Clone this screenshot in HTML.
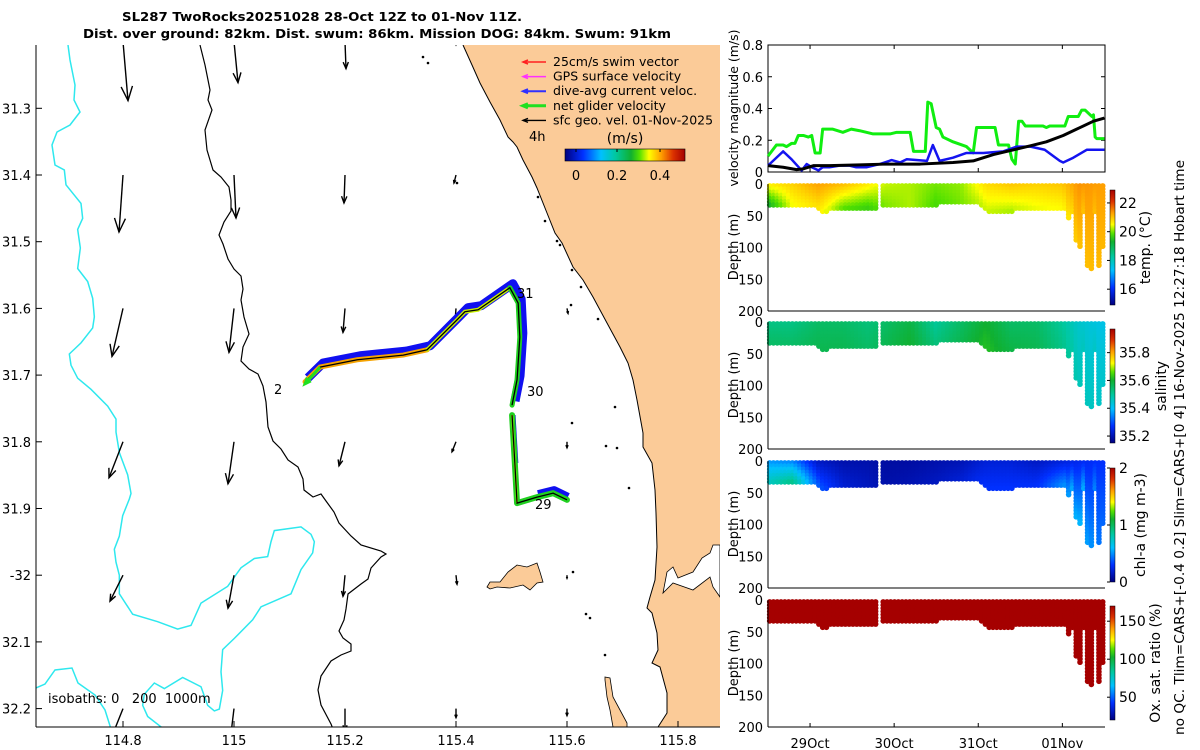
<!DOCTYPE html>
<html><head><meta charset="utf-8"><style>
html,body{margin:0;padding:0;background:#fff}
svg{display:block;font-family:"DejaVu Sans","Liberation Sans",sans-serif}
</style></head><body>
<svg id="fig" width="1200" height="750" viewBox="0 0 1200 750" xmlns="http://www.w3.org/2000/svg">
<rect width="1200" height="750" fill="#fff"/>
<g font-weight="bold" font-size="12" text-anchor="middle">
<text x="322" y="21" textLength="400" lengthAdjust="spacingAndGlyphs">SL287 TwoRocks20251028 28-Oct 12Z to 01-Nov 11Z.</text>
<text x="377" y="38" textLength="588" lengthAdjust="spacingAndGlyphs">Dist. over ground: 82km. Dist. swum: 86km. Mission DOG: 84km. Swum: 91km</text>
</g>
<defs><clipPath id="mapclip"><rect x="36" y="45" width="684" height="682"/></clipPath>
<linearGradient id="jetH" x1="0" x2="1" y1="0" y2="0"></linearGradient>
<linearGradient id="jetV" x1="0" x2="0" y1="1" y2="0"></linearGradient></defs>
<g id="map" clip-path="url(#mapclip)"></g>
<g id="mapaxes"></g>
<g id="right"></g>
<text font-size="13" transform="translate(1184,735) rotate(-90)" textLength="575" lengthAdjust="spacingAndGlyphs">no QC. Tlim=CARS+[-0.4 0.2] Slim=CARS+[0 4] 16-Nov-2025 12:27:18 Hobart time</text>
</svg>
<script>
// ---------- DATA ----------
const trackLon=[115.128,115.155,115.222,115.305,115.348,115.402,115.416,115.440,115.497,115.512,115.515,115.510,115.501];
const trackLat=[31.710,31.688,31.677,31.670,31.662,31.617,31.605,31.602,31.569,31.592,31.643,31.707,31.745];
const track2Lon=[115.501,115.506,115.510,115.546,115.575,115.600];
const track2Lat=[31.760,31.832,31.892,31.883,31.877,31.887];
const gridLon=[114.8,115.0,115.2,115.4,115.6];
const gridLat=[31.2,31.4,31.6,31.8,32.0,32.2];
const geoU=[[0.02,0.016,0.004,0,null],[-0.016,0.008,-0.004,-0.008,null],[-0.044,-0.02,-0.008,-0.004,0.004],[-0.056,-0.024,-0.024,-0.016,0],[-0.052,-0.024,-0.008,0.004,0],[-0.04,-0.012,0,0,0]];
const geoV=[[-0.236,-0.164,-0.108,-0.012,null],[-0.228,-0.172,-0.112,-0.032,null],[-0.192,-0.176,-0.096,-0.052,-0.02],[-0.144,-0.168,-0.096,-0.04,-0.024],[-0.104,-0.132,-0.084,-0.036,-0.012],[-0.1,-0.1,-0.088,-0.036,-0.028]];
const mapXTicks=[114.8,115,115.2,115.4,115.6,115.8];
const mapXLabels=["114.8","115","115.2","115.4","115.6","115.8"];
const mapYTicks=[31.3,31.4,31.5,31.6,31.7,31.8,31.9,32.0,32.1,32.2];
const mapYLabels=["31.3","31.4","31.5","31.6","31.7","31.8","31.9","-32","32.1","32.2"];
// velocity series (t = days since 28-Oct 12Z)
const greenT=[0,.10,.18,.22,.28,.32,.36,.42,.48,.52,.56,.62,.65,.77,.89,.99,1.09,1.25,1.45,1.53,1.69,1.73,1.87,1.90,1.94,2.00,2.04,2.08,2.20,2.36,2.44,2.48,2.70,2.74,2.86,2.90,2.94,2.98,3.02,3.06,3.27,3.31,3.35,3.53,3.57,3.69,3.73,3.77,3.85,3.87,3.89,3.91,4.0];
const greenV=[.10,.17,.17,.16,.18,.18,.23,.23,.22,.23,.12,.12,.27,.27,.25,.27,.26,.24,.24,.25,.25,.13,.13,.44,.43,.28,.27,.22,.19,.16,.12,.28,.28,.17,.17,.08,.05,.32,.32,.29,.29,.28,.29,.29,.35,.35,.39,.39,.35,.36,.22,.21,.21];
const blueT=[0,.18,.28,.40,.46,.52,.60,.65,.73,.85,.97,1.05,1.17,1.33,1.47,1.57,1.65,1.89,1.96,2.04,2.20,2.36,2.56,2.80,2.96,3.12,3.29,3.47,3.51,3.63,3.79,4.0];
const blueV=[.04,.13,.08,.01,.05,.03,.01,.03,.03,.04,.04,.03,.03,.05,.075,.06,.08,.07,.17,.07,.09,.12,.12,.13,.16,.16,.14,.07,.06,.09,.14,.14];
const blackT=[0,.18,.34,.42,.54,.73,1.09,1.41,1.81,2.20,2.44,2.68,2.92,3.12,3.31,3.51,3.71,3.87,4.0];
const blackV=[.04,.03,.015,.02,.04,.04,.045,.05,.05,.06,.07,.11,.14,.165,.19,.23,.28,.32,.34];
const velTicks=[0,0.2,0.4,0.6,0.8];
const velLabels=["0","0.2","0.4","0.6","0.8"];
const dayTicks=[0.5,1.5,2.5,3.5];
const dayLabels=["29Oct","30Oct","31Oct","01Nov"];
const depthTicks=[0,50,100,150,200];
// section data
const depthT=[0,.3,.6,.62,.9,1.3,1.36,1.8,2.2,2.5,2.62,3.5,3.55,3.62,3.7,3.8,3.9,3.95,4.0];
const depthMax=[33,34,38,44,41,41,38,35,31,33,44,41,41,83,99,130,141,125,83];
const valT=[0,.3,.6,.9,1.2,1.4,1.7,2.0,2.3,2.6,2.9,3.2,3.5,3.7,4.0];
const tempSurf=[20.7,20.9,21.3,21.1,20.7,20.3,20.2,20.0,20.1,20.8,21.0,20.9,21.0,21.4,21.3];
const tempDeep=[19.3,20.5,20.7,19.8,19.6,20.0,20.2,19.8,20.0,20.3,20.2,20.4,20.5,21.0,21.1];
const saltSurf=[35.52,35.52,35.55,35.55,35.53,35.55,35.58,35.50,35.55,35.60,35.55,35.55,35.50,35.45,35.42];
const saltDeep=[35.55,35.55,35.57,35.57,35.55,35.57,35.60,35.53,35.57,35.62,35.58,35.57,35.52,35.47,35.45];
const chlSurf=[0.5,0.45,0.15,0.1,0.1,0.08,0.08,0.1,0.12,0.2,0.2,0.15,0.2,0.25,0.3];
const chlDeep=[0.75,0.9,0.4,0.2,0.15,0.1,0.12,0.15,0.2,0.3,0.3,0.3,0.5,0.6,0.4];
const oxSurf=[180,180,180,180,180,180,180,180,180,180,180,180,180,180,180];
const oxDeep=[180,180,180,180,180,180,180,180,180,180,180,180,180,180,180];
const gapStart=1.31, gapEnd=1.36;

// ---------- helpers ----------
const NS="http://www.w3.org/2000/svg";
function mk(tag,attrs,parent){const e=document.createElementNS(NS,tag);for(const k in attrs)e.setAttribute(k,attrs[k]);parent.appendChild(e);return e;}
const cmStops=[[0,[0,0,127]],[0.15,[0,48,255]],[0.3,[0,192,255]],[0.42,[0,200,160]],[0.55,[16,176,48]],[0.62,[80,224,0]],[0.7,[255,255,0]],[0.8,[255,160,0]],[0.9,[220,50,0]],[1,[165,0,0]]];
function jet(v){v=Math.max(0,Math.min(1,v));for(let i=1;i<cmStops.length;i++){if(v<=cmStops[i][0]){const a=cmStops[i-1],b=cmStops[i];const f=(v-a[0])/(b[0]-a[0]);const c=a[1].map((x,j)=>Math.round(x+f*(b[1][j]-x)));return `rgb(${c[0]},${c[1]},${c[2]})`;}}return 'rgb(165,0,0)';}
function interp(T,V,t){if(t<=T[0])return V[0];for(let i=1;i<T.length;i++){if(t<=T[i]){const f=(t-T[i-1])/(T[i]-T[i-1]);return V[i-1]+f*(V[i]-V[i-1]);}}return V[V.length-1];}
const lonX=lon=>123+(lon-114.8)*555;
const latY=lat=>175+(lat-31.4)*667;
const tX=t=>768+t*84.1;
['jetH','jetV'].forEach(id=>{const g=document.getElementById(id);for(let i=0;i<=40;i++){const s=document.createElementNS(NS,'stop');s.setAttribute('offset',i/40);s.setAttribute('stop-color',jet(i/40));g.appendChild(s);}});

// ---------- MAP ----------
const map=document.getElementById('map');
function poly(pts,attrs,name){const e=mk('polyline',Object.assign({points:pts.map(p=>p.join(',')).join(' '),fill:'none'},attrs),map);return e;}
function polyg(pts,attrs,name){const e=mk('polygon',Object.assign({points:pts.map(p=>p.join(',')).join(' ')},attrs),map);return e;}
const coast=[[463,45],[472,65],[480,83],[490,102],[500,120],[508,137],[513,142],[517,147],[523,160],[532,177],[537,188],[547,213],[555,233],[562,243],[573,267],[583,280],[593,297],[607,323],[620,347],[628,363],[633,380],[637,400],[643,433],[643,447],[652,463],[655,490],[656,513],[657,547],[655,580],[650,597],[647,608],[652,613],[657,633],[658,650],[652,663],[660,667],[667,693],[667,713],[658,727]];
polyg(coast.concat([[720,727],[720,45]]),{fill:'#fbcb98',stroke:'none'},'land');
poly(coast,{stroke:'#000','stroke-width':1},'coastline');
polyg([[667,572],[673,567],[678,578],[693,572],[702,558],[710,553],[713,545],[720,545],[720,597],[713,587],[710,577],[693,590],[673,583],[663,593]],{fill:'#fff',stroke:'#000','stroke-width':0.8},'river-inlet');
polyg([[487,587],[490,582],[500,582],[508,572],[517,565],[527,567],[537,563],[540,572],[543,582],[537,583],[530,590],[523,585],[510,588],[497,587],[490,589]],{fill:'#fbcb98',stroke:'#000','stroke-width':0.8},'rottnest-island');
polyg([[605,677],[610,678],[613,697],[620,710],[627,723],[627,727],[613,727],[610,710],[607,697],[605,680]],{fill:'#fbcb98',stroke:'#000','stroke-width':0.8},'garden-island');
poly([[200,45],[205,65],[210,90],[208,100],[212,110],[205,130],[207,150],[213,170],[221,177],[229,187],[231,200],[231,211],[224,222],[219,235],[223,244],[228,259],[234,269],[241,276],[243,289],[241,300],[244,317],[249,334],[243,347],[241,361],[249,369],[258,374],[263,386],[266,402],[268,427],[273,441],[281,449],[288,460],[298,467],[303,479],[304,490],[313,497],[321,494],[326,501],[334,512],[339,523],[351,536],[361,545],[381,551],[386,554],[381,557],[371,568],[368,579],[361,584],[348,594],[346,609],[344,620],[339,631],[343,638],[351,644],[351,651],[341,655],[331,661],[321,676],[318,690],[321,705],[331,724],[333,729]],{stroke:'#000','stroke-width':1.2},'isobath-200m');
const cz=[[190,0],[195,40],[240,90],[245,130],[230,160],[238,210],[230,265],[260,300],[275,345],[280,395],[275,425],[240,465],[205,495],[210,525],[230,560],[270,590],[320,635],[345,670],[345,705],[355,760],[380,820],[390,870],[385,885],[365,930],[355,985],[340,1020],[345,1055],[355,1090],[355,1140],[395,1195],[470,1215],[530,1235],[570,1225],[600,1165],[680,1120],[720,1070],[760,1045],[800,1040],[810,1000],[820,970],[900,960],[930,980],[940,1000],[935,1030],[900,1075],[870,1140],[780,1175],[755,1210],[700,1260],[665,1290],[660,1350],[665,1400],[655,1450],[640,1455],[620,1440],[600,1390],[545,1365],[490,1395],[460,1380],[430,1410],[425,1440],[440,1470],[490,1505]].map(p=>[p[0]/3+1,170+p[1]/2.69]);
poly([[68,45],[70,60],[75,85],[74,100],[80,112],[70,125],[57,132],[52,145],[55,165]].concat(cz),{stroke:'#2ee8ee','stroke-width':1.5},'isobath-1000m');
poly([[36,688],[45,684],[55,670],[72,668],[78,683],[95,695],[105,710],[111,729]],{stroke:'#2ee8ee','stroke-width':1.5},'isobath-1000m-south');
[[423,57],[428,63],[457,183],[538,197],[545,221],[557,241],[560,245],[572,270],[581,287],[571,305],[598,319],[572,423],[615,407],[606,446],[617,448],[629,488],[573,572],[586,614],[590,618],[605,655]].forEach(p=>{const c=mk('circle',{cx:p[0],cy:p[1],r:1.3,fill:'#000'},map);});
function arrow(g,x1,y1,x2,y2,col,w,hs,name){const L=Math.hypot(x2-x1,y2-y1);const a=mk('g',{},g);mk('line',{x1,y1,x2,y2,stroke:col,'stroke-width':w},a);if(L<1)return a;const ux=(x2-x1)/L,uy=(y2-y1)/L;const h=Math.min(hs,L*0.45);mk('polyline',{points:`${x2-h*ux-h*0.4*uy},${y2-h*uy+h*0.4*ux} ${x2},${y2} ${x2-h*ux+h*0.4*uy},${y2-h*uy-h*0.4*ux}`,fill:'none',stroke:col,'stroke-width':w},a);return a;}
for(let r=0;r<gridLat.length;r++)for(let c=0;c<gridLon.length;c++){const u=geoU[r][c],v=geoV[r][c];if(u===null)continue;const x=lonX(gridLon[c]),y=latY(gridLat[r]);arrow(map,x,y,x+u*250,y-v*250,'#000',1.4,Math.max(3,Math.hypot(u,v)*60),'geo-velocity-arrow');}
const tp=trackLon.map((l,i)=>[lonX(l),latY(trackLat[i])]);
const tp2=track2Lon.map((l,i)=>[lonX(l),latY(track2Lat[i])]);
poly(tp.map(p=>[p[0]+3,p[1]-4]),{stroke:'#1010f0','stroke-width':9,'stroke-linejoin':'round'},'dive-avg-current-band');
poly(tp2.slice(3).map(p=>[p[0]+1,p[1]-3]),{stroke:'#1010f0','stroke-width':8,'stroke-linejoin':'round'},'dive-avg-current-band-south');
poly(tp2.slice(0,2).map(p=>[p[0]+1,p[1]]),{stroke:'#1010f0','stroke-width':5},'dive-avg-current-band-leg');
poly(tp.slice(0,5),{stroke:'#f5a300','stroke-width':5,'stroke-linecap':'round'},'net-velocity-west');
poly(tp.slice(4,9),{stroke:'#c8f000','stroke-width':4,'stroke-linecap':'round'},'net-velocity-mid');
poly(tp.slice(8),{stroke:'#20d020','stroke-width':5,'stroke-linecap':'round'},'net-velocity-east');
poly(tp2,{stroke:'#20d020','stroke-width':6,'stroke-linecap':'round','stroke-linejoin':'round'},'net-velocity-south');
poly(tp2.slice(0,3),{stroke:'#b8ef00','stroke-width':2},'net-velocity-south-hi');
poly(tp,{stroke:'#000','stroke-width':1.3},'glider-track');
poly(tp2,{stroke:'#000','stroke-width':1.3},'glider-track-south');
arrow(map,tp[1][0],tp[1][1],tp[0][0],tp[0][1]+2,'#20e020',3,6,'start-arrow');
[['31',517,298],['30',527,396],['29',535,509],['2',274,394],['4h',529,141]].forEach(d=>{const t=mk('text',{x:d[1],y:d[2],'font-size':13},map);t.textContent=d[0];});
const lg=mk('g',{},map);
[['25cm/s swim vector','#ff2020',1.5],['GPS surface velocity','#ff30ff',1.5],['dive-avg current veloc.','#3030ff',2],['net glider velocity','#20e020',3],['sfc geo. vel. 01-Nov-2025','#000',1.4]].forEach((d,i)=>{const y=66+i*14.6;const e=mk('g',{},lg);arrow(e,546,y-4,523,y-4,d[1],d[2],5,'legend-arrow');const t=mk('text',{x:553,y:y,'font-size':12.5},e);t.textContent=d[0];});
const ut=mk('text',{x:625,y:143,'font-size':14,'text-anchor':'middle'},lg);ut.textContent='(m/s)';
mk('rect',{x:565,y:149,width:120,height:12,fill:'url(#jetH)',stroke:'#000','stroke-width':0.6},lg);
[['0',576],['0.2',617],['0.4',660]].forEach(d=>{mk('line',{x1:d[1],x2:d[1],y1:149,y2:152,stroke:'#000'},lg);const t=mk('text',{x:d[1],y:180,'font-size':13,'text-anchor':'middle'},lg);t.textContent=d[0];});
const iso=mk('text',{x:48,y:703,'font-size':13},map);iso.textContent='isobaths: 0\u00a0\u00a0\u00a0200\u00a0\u00a01000m';
const ma=document.getElementById('mapaxes');
mk('line',{x1:36,y1:45,x2:36,y2:727,stroke:'#000'},ma);
mk('line',{x1:36,y1:727,x2:720,y2:727,stroke:'#000'},ma);
mapXTicks.forEach((v,i)=>{const x=lonX(v);mk('line',{x1:x,x2:x,y1:727,y2:721,stroke:'#000'},ma);const t=mk('text',{x:x,y:745,'font-size':13,'text-anchor':'middle'},ma);t.textContent=mapXLabels[i];});
mapYTicks.forEach((v,i)=>{const y=latY(v);mk('line',{x1:36,x2:42,y1:y,y2:y,stroke:'#000'},ma);const t=mk('text',{x:31,y:y+5,'font-size':13,'text-anchor':'end'},ma);t.textContent=mapYLabels[i];});

// ---------- RIGHT PANELS ----------
const R=document.getElementById('right');
const X0=768,X1=1105;
const vg=mk('g',{},R);
const vY=v=>172-v/0.8*127;
mk('rect',{x:X0,y:45,width:X1-X0,height:127,fill:'none',stroke:'#000'},vg);
velTicks.forEach((v,i)=>{const y=vY(v);mk('line',{x1:X0,x2:X0+4,y1:y,y2:y,stroke:'#000'},vg);mk('line',{x1:X1,x2:X1-4,y1:y,y2:y,stroke:'#000'},vg);const t=mk('text',{x:763,y:y+5,'font-size':13,'text-anchor':'end'},vg);t.textContent=velLabels[i];});
dayTicks.forEach(d=>{mk('line',{x1:tX(d),x2:tX(d),y1:172,y2:168,stroke:'#000'},vg);mk('line',{x1:tX(d),x2:tX(d),y1:45,y2:49,stroke:'#000'},vg);});
const vl=mk('text',{'font-size':12.5,'text-anchor':'middle',transform:'translate(738,108) rotate(-90)'},vg);vl.textContent='velocity magnitude (m/s)';
function series(T,V,col,w,name){const p=mk('polyline',{points:T.map((t,i)=>tX(t)+','+vY(V[i])).join(' '),fill:'none',stroke:col,'stroke-width':w,'stroke-linejoin':'round'},vg);}
series(greenT,greenV,'#10ee10',3,'net-glider-velocity-line');
series(blueT,blueV,'#1414f0',2.5,'dive-avg-current-line');
series(blackT,blackV,'#000',3,'sfc-geo-velocity-line');
const panels=[
 {name:'temperature',top:184,surf:tempSurf,deep:tempDeep,vmin:14.9,vmax:22.9,cb:[190,305],ticks:[16,18,20,22],labels:['16','18','20','22'],title:'temp. (°C)',tx:1150},
 {name:'salinity',top:322,surf:saltSurf,deep:saltDeep,vmin:35.15,vmax:35.97,cb:[329,443],ticks:[35.2,35.4,35.6,35.8],labels:['35.2','35.4','35.6','35.8'],title:'salinity',tx:1166},
 {name:'chlorophyll',top:461,surf:chlSurf,deep:chlDeep,vmin:0,vmax:2,cb:[468,582],ticks:[0,1,2],labels:['0','1','2'],title:'chl-a (mg m-3)',tx:1145},
 {name:'oxygen',top:600,surf:oxSurf,deep:oxDeep,vmin:20,vmax:170,cb:[606,720],ticks:[50,100,150],labels:['50','100','150'],title:'Ox. sat. ratio (%)',tx:1160}];
panels.forEach((P,pi)=>{
 const g=mk('g',{},R);
 const dY=d=>P.top+d/200*127;
 const dots=mk('g',{},g);
 let col=0;
 for(let t=0.02;t<=3.99;t+=0.045){col++;if(t>gapStart&&t<gapEnd)continue;
  let md=interp(depthT,depthMax,t);
  if(t>3.55&&col%3===0)md=Math.min(md,45);
  for(let d=3;d<=md;d+=5){const f=d/Math.max(md,1);const s=interp(valT,P.surf,t);const v=s+(interp(valT,P.deep,t)-s)*f;
   const c=mk('circle',{cx:tX(t),cy:dY(d),r:2.8,fill:jet((v-P.vmin)/(P.vmax-P.vmin))},dots);}
 }
 mk('line',{x1:X0,x2:X0,y1:P.top,y2:P.top+127,stroke:'#000'},g);
 mk('line',{x1:X0,x2:X1,y1:P.top+127,y2:P.top+127,stroke:'#000'},g);
 depthTicks.forEach(d=>{const t=mk('text',{x:763,y:dY(d)+5,'font-size':13,'text-anchor':'end'},g);t.textContent=String(d);});
 if(pi===3){dayTicks.forEach((d,i)=>{mk('line',{x1:tX(d),x2:tX(d),y1:727,y2:723,stroke:'#000'},g);const t=mk('text',{x:tX(d),y:748,'font-size':13,'text-anchor':'middle'},g);t.textContent=dayLabels[i];});}
 const yl=mk('text',{'font-size':13,'text-anchor':'middle',transform:`translate(738,${P.top+63}) rotate(-90)`},g);yl.textContent='Depth (m)';
 const cb=mk('rect',{x:1110,y:P.cb[0],width:5,height:P.cb[1]-P.cb[0],fill:'url(#jetV)',stroke:'#000','stroke-width':0.5},g);
 P.ticks.forEach((v,i)=>{const y=P.cb[1]-(v-P.vmin)/(P.vmax-P.vmin)*(P.cb[1]-P.cb[0]);mk('line',{x1:1107,x2:1110,y1:y,y2:y,stroke:'#000'},g);const t=mk('text',{x:1119,y:y+5,'font-size':14},g);t.textContent=P.labels[i];});
 const ct=mk('text',{'font-size':14,'text-anchor':'middle',transform:`translate(${P.tx},${(P.cb[0]+P.cb[1])/2}) rotate(-90)`},g);ct.textContent=P.title;
});
</script>
</body></html>
